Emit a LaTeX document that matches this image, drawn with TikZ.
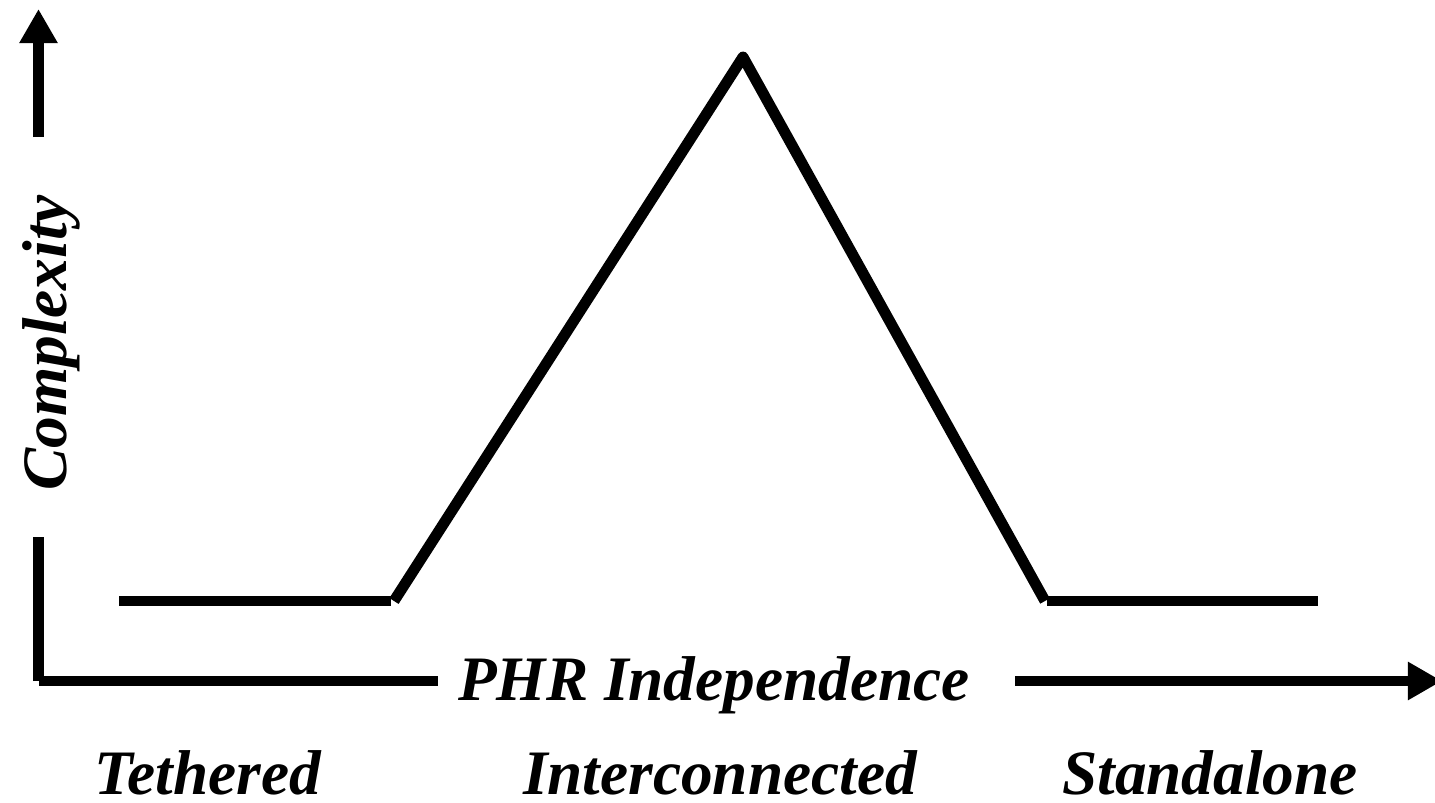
\documentclass[tikz,border=0pt]{standalone}
\usepackage{fontspec}
\setmainfont{Liberation Serif}
\usetikzlibrary{arrows.meta}

\begin{document}
\begin{tikzpicture}
		[x=0.01cm, y=-0.01cm, line width=3.1pt,
		 lbl/.style={font=\fontsize{18}{22}\selectfont\bfseries\itshape, inner sep=0pt, anchor=base},
		 axis/.style={-{Triangle[length=0.34cm, width=0.36cm]}}]
		\useasboundingbox (0,0) rectangle (1435,803);

		% axes
		\coordinate (O) at (38.5,681);
		\coordinate (Ytop) at (38.5,537);
		\coordinate (Ybot) at (38.5,137);
		\coordinate (Ytip) at (38.5,9);
		\coordinate (Xleft) at (39,681);
		\coordinate (Xend) at (438,681);
		\coordinate (Xstart) at (1015,681);
		\coordinate (Xtip) at (1442,681);
		\draw (O) -- (Ytop);
		\draw[axis] (Ybot) -- (Ytip);
		\draw (Xleft) -- (Xend);
		\draw[axis] (Xstart) -- (Xtip);
		\node[lbl] (xlabel) at (714,700) {PHR Independence};
		\node[lbl, rotate=90] (ylabel) at (67,343) {Complexity};

		% curve
		\coordinate (t1) at (119,601);
		\coordinate (t2) at (391,601);
		\coordinate (c1) at (394,601);
		\coordinate (peak) at (743,57);
		\coordinate (c2) at (1045,601);
		\coordinate (s1) at (1047,601);
		\coordinate (s2) at (1318,601);
		\draw (t1) -- (t2);
		\draw[line join=round] (c1) -- (peak) -- (c2);
		\draw (s1) -- (s2);

		\node[lbl] (tethered) at (208,794) {Tethered};
		\node[lbl] (interconnected) at (720,794) {Interconnected};
		\node[lbl] (standalone) at (1210,794) {Standalone};
	\end{tikzpicture}
\end{document}
